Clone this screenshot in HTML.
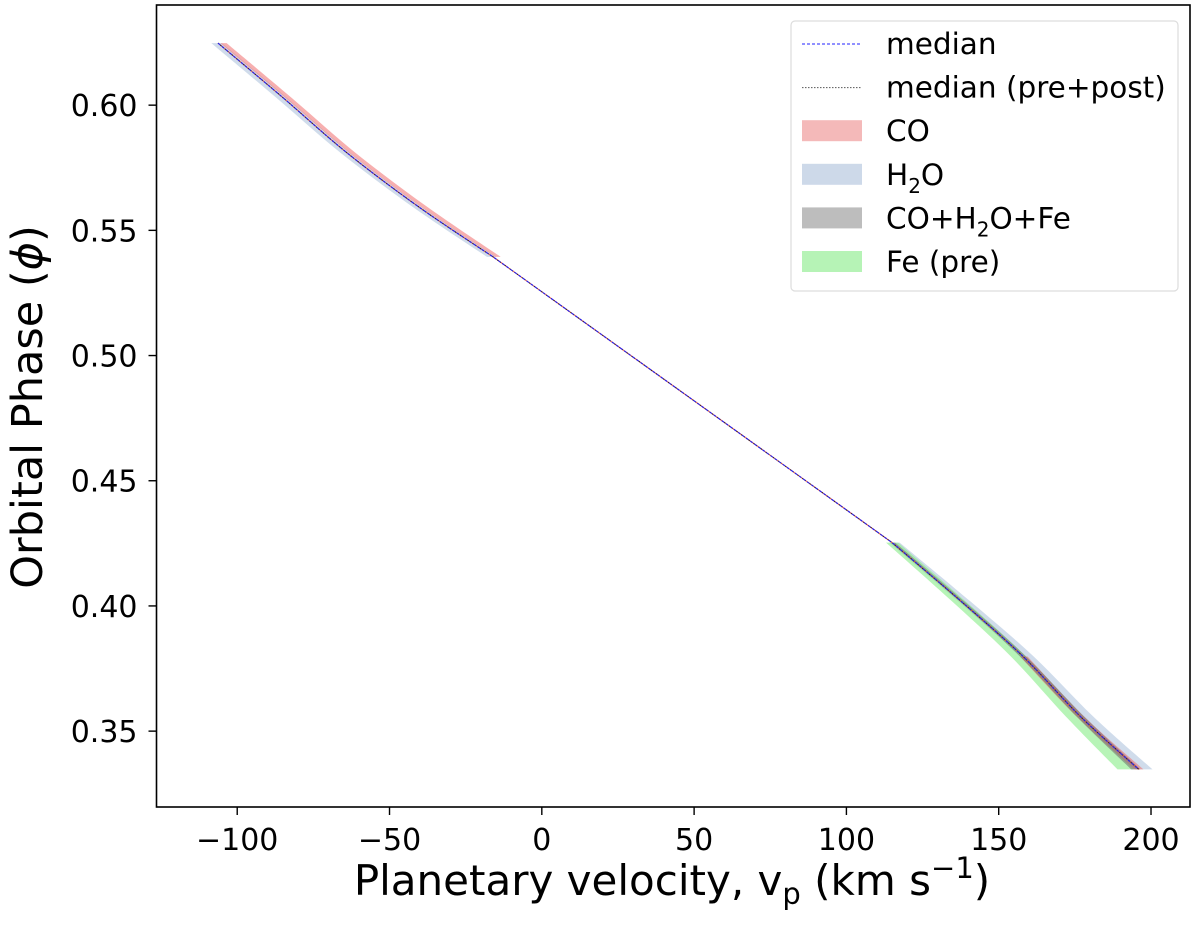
<!DOCTYPE html>
<html><head><meta charset="utf-8"><style>
html,body{margin:0;padding:0;background:#fff;}
svg{display:block;font-family:"DejaVu Sans","Liberation Sans",sans-serif;}
</style></head><body>
<svg id="chart" width="1200" height="932" viewBox="0 0 1200 932"></svg>
<script>
// data
const phase = [0.6248, 0.6030, 0.5809, 0.5590, 0.5394, 0.4253, 0.4020, 0.3798, 0.3559, 0.3347];
const medianV = [-106.3, -85.0, -63.9, -40.0, -16.0, 115.0, 137.5, 158.0, 176.8, 196.0];
const coLo = [-105.5, -84.2, -63.1, -39.2, -15.3, null, null, 157.0, 175.5, 194.5];
const coHi = [-103.5, -82.2, -61.1, -37.2, -13.5, null, null, 159.5, 178.0, 197.5];
const h2oLo = [-108.5, -87.2, -66.0, -42.0, -18.0, 114.0, 136.5, 157.0, 176.0, 195.0];
const h2oHi = [-105.0, -83.8, -62.8, -39.0, -15.0, 117.5, 140.5, 161.5, 181.0, 200.5];
const greyLo = [null, null, null, null, null, 114.5, 137.0, 157.0, 175.5, 193.5];
const greyHi = [null, null, null, null, null, 116.0, 138.5, 159.0, 178.0, 196.5];
const feLo = [null, null, null, null, null, 113.0, 134.5, 154.0, 172.0, 189.0];
const feHi = [null, null, null, null, null, 117.0, 139.0, 159.0, 177.5, 194.5];
const xTicks = [-100, -50, 0, 50, 100, 150, 200];
const yTicks = [0.35, 0.40, 0.45, 0.50, 0.55, 0.60];

const L=156.5,R=1190,T=5,B=807;
const xMin=-126.5,xMax=212.8,yMin=0.3197,yMax=0.64;
const X=v=>L+(v-xMin)/(xMax-xMin)*(R-L);
const Y=p=>B-(p-yMin)/(yMax-yMin)*(B-T);
const NS="http://www.w3.org/2000/svg";
const svg=document.getElementById('chart');
function mk(tag,attrs,parent){const e=document.createElementNS(NS,tag);for(const k in attrs)e.setAttribute(k,attrs[k]);(parent||svg).appendChild(e);return e;}

// smooth path through points (Catmull-Rom)
function smooth(pts,start){
  let d=(start?'M':'L')+pts[0][0].toFixed(1)+','+pts[0][1].toFixed(1);
  for(let i=0;i<pts.length-1;i++){
    const p0=pts[i-1]||pts[i],p1=pts[i],p2=pts[i+1],p3=pts[i+2]||p2;
    const c1=[p1[0]+(p2[0]-p0[0])/6,p1[1]+(p2[1]-p0[1])/6];
    const c2=[p2[0]-(p3[0]-p1[0])/6,p2[1]-(p3[1]-p1[1])/6];
    d+='C'+c1[0].toFixed(1)+','+c1[1].toFixed(1)+' '+c2[0].toFixed(1)+','+c2[1].toFixed(1)+' '+p2[0].toFixed(1)+','+p2[1].toFixed(1);
  }
  return d;
}

const plot=mk('g',{});



function band(lo,hi,fill,name,segs){
  segs.forEach((seg,si)=>{
    const idx=seg.filter(i=>lo[i]!=null);
    if(idx.length<2)return;
    const a=idx.map(i=>[X(lo[i]),Y(phase[i])]);
    const b=idx.slice().reverse().map(i=>[X(hi[i]),Y(phase[i])]);
    const p=mk('path',{d:smooth(a,true)+smooth(b,false)+'Z',fill:fill,stroke:'none'},plot);
    
    
  });
}
const seg1=[0,1,2,3,4],seg2=[5,6,7,8,9];
band(h2oLo,h2oHi,'rgba(176,196,222,0.6)','h2o',[seg1,seg2]);
band(feLo,feHi,'rgba(144,238,144,0.65)','fe-pre',[seg2]);
band(coLo,coHi,'rgba(240,110,110,0.55)','co',[seg1,seg2]);
band(greyLo,greyHi,'rgba(110,110,110,0.55)','combined',[seg2]);

function line(vals,stroke,w,dash,name){
  const s1=seg1.map(i=>[X(vals[i]),Y(phase[i])]);
  const s2=seg2.map(i=>[X(vals[i]),Y(phase[i])]);
  const d=smooth(s1,true)+'L'+s2[0][0].toFixed(1)+','+s2[0][1].toFixed(1)+smooth(s2,false).replace(/^L[^C]*/,'');
  const e=mk('path',{d:d,fill:'none',stroke:stroke,'stroke-width':w,'stroke-dasharray':dash},plot);
  
  
}
line(medianV,'rgba(220,60,60,0.8)',1.2,'none','co-median-line');
line(medianV,'#222',1,'1.5,1.5','median-pre-post-line');
line(medianV,'#2020ff',1,'3,2','median-line');

// axes frame
const fr=mk('rect',{x:L,y:T,width:R-L,height:B-T,fill:'none',stroke:'#000','stroke-width':1.6});



xTicks.forEach(t=>{
  const x=X(t);
  mk('line',{x1:x,x2:x,y1:B,y2:B+8,stroke:'#000','stroke-width':1.4});
  const tx=mk('text',{x:x,y:B+43,'font-size':30,'text-anchor':'middle',fill:'#000'});
  tx.textContent=(t<0?'\u2212'+Math.abs(t):String(t));
  
  
});
yTicks.forEach(t=>{
  const y=Y(t);
  mk('line',{x1:L-8,x2:L,y1:y,y2:y,stroke:'#000','stroke-width':1.4});
  const tx=mk('text',{x:L-19,y:y+11,'font-size':30,'text-anchor':'end',fill:'#000'});
  tx.textContent=t.toFixed(2);
  
  
});

const xl=mk('text',{x:672,y:895,'font-size':42,'text-anchor':'middle',fill:'#000'});
xl.innerHTML='Planetary velocity, v<tspan font-size="29" dy="9">p</tspan><tspan dy="-9"> (km s</tspan><tspan font-size="29" dy="-17">\u22121</tspan><tspan dy="17">)</tspan>';


const yl=mk('text',{x:0,y:0,'font-size':43,'text-anchor':'middle',fill:'#000',transform:'translate(42,407) rotate(-90)'});
yl.innerHTML='Orbital Phase (<tspan font-style="italic">\u03d5</tspan>)';



// legend
const lg=mk('g',{});


mk('rect',{x:791,y:21,width:387,height:270,rx:4,fill:'#fff',stroke:'#ddd','stroke-width':1.2},lg);
const items=[
 {t:'median',type:'line',c:'#2020ff',dash:'3,2'},
 {t:'median (pre+post)',type:'line',c:'#555',dash:'1.5,1.5'},
 {t:'CO',type:'patch',c:'#f4b9b9'},
 {t:'H<tspan font-size="20" dy="8">2</tspan><tspan dy="-8">O</tspan>',type:'patch',c:'#cdd9e9'},
 {t:'CO+H<tspan font-size="20" dy="8">2</tspan><tspan dy="-8">O+Fe</tspan>',type:'patch',c:'#bdbdbd'},
 {t:'Fe (pre)',type:'patch',c:'#b6f3b6'}];
items.forEach((it,i)=>{
  const cy=44+i*43.6;
  const g=mk('g',{},lg);
  
  
  if(it.type==='line')mk('line',{x1:802,x2:862,y1:cy,y2:cy,stroke:it.c,'stroke-width':1,'stroke-dasharray':it.dash},g);
  else mk('rect',{x:802,y:cy-11,width:60,height:21,fill:it.c},g);
  const tx=mk('text',{x:886,y:cy+10,'font-size':29.5,fill:'#000'},g);
  tx.innerHTML=it.t;
});
</script>
</body></html>
